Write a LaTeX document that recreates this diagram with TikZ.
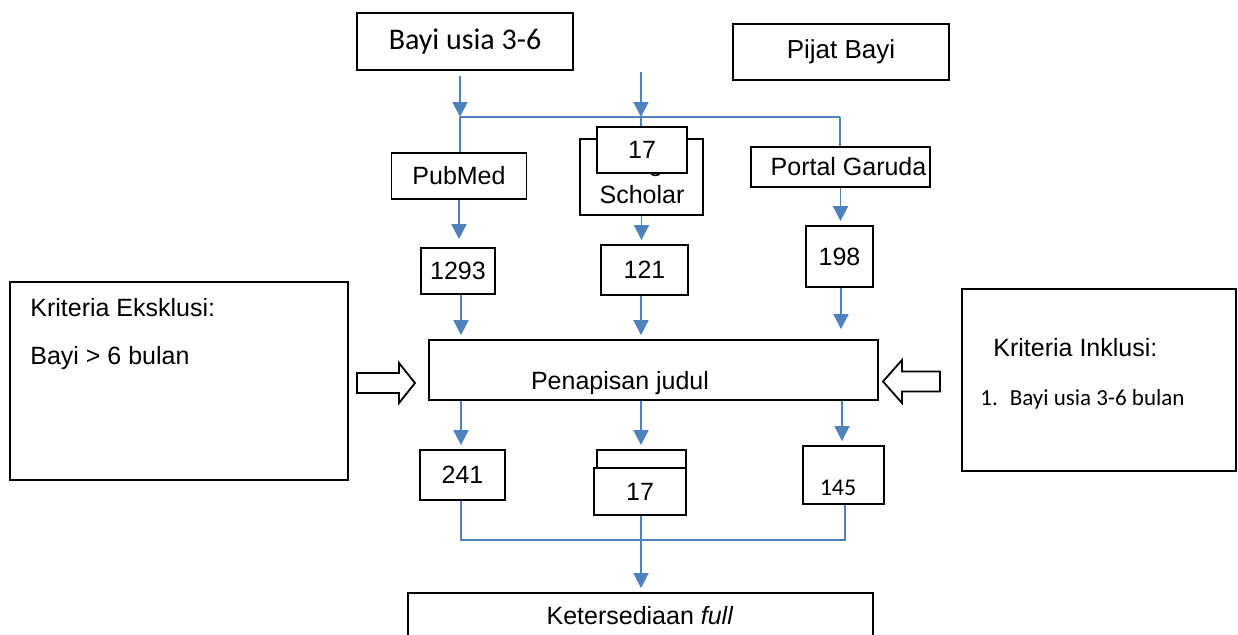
\documentclass[tikz,border=0pt]{standalone}
\usepackage{fontspec}
\setmainfont{Liberation Sans}
\newfontfamily\calibri{Carlito}
\usetikzlibrary{positioning,arrows.meta}
\definecolor{flowblue}{RGB}{79,129,189}

\begin{document}
\begin{tikzpicture}[x=0.5pt,y=-0.5pt,
    box/.style={draw,line width=0.9pt,inner sep=0pt,align=center,font=\fontsize{12.5}{16}\selectfont},
    txt/.style={inner sep=0pt,align=center,font=\fontsize{12.5}{15}\selectfont},
    flow/.style={draw=flowblue,line width=0.9pt,shorten >=2pt,-{Triangle[width=7.5pt,length=7.5pt]}},
    link/.style={draw=flowblue,line width=0.9pt}]
    \useasboundingbox (0,0) rectangle (1238,634);

        % sources
        \node[box,minimum width=108pt,minimum height=28.5pt,font=\calibri\fontsize{15}{18}\selectfont] (bayi) at (465,41.5) {Bayi usia 3-6};
        \node[box,minimum width=108pt,minimum height=28pt,font=\fontsize{13}{15}\selectfont] (pijat) at (841,52) {Pijat Bayi};

        % databases
        \node[box,minimum width=67.5pt,minimum height=23pt] (pub) at (459,176) {PubMed};
        \node[box,minimum width=61.5pt,minimum height=38pt] (sch) at (641.5,177) {};
        \node[txt,font=\fontsize{12.5}{16}\selectfont] (scht) at (642,179) {Google\\Scholar};
        \node[box,minimum width=89.5pt,minimum height=20pt] (gar) at (840.5,167) {\hspace{8pt}Portal Garuda};

        \coordinate (src1) at (460,76);
        \coordinate (src2) at (641,72);
        \coordinate (jl) at (460,117);
        \coordinate (jm) at (641,117);
        \coordinate (jr) at (840,117);
        \draw[flow,shorten >=0pt] (src1) -- (jl);
        \draw[flow,shorten >=0pt] (src2) -- (jm);
        \draw[link] (jl) -- (jr);
        \draw[link] (jl) -- (jl |- pub.north);
        \draw[link] (jr) -- (jr |- gar.north);
        \draw[link] (jm) -- (jm |- sch.north);
        \node[box,fill=white,minimum width=45pt,minimum height=23pt] (s17) at (642,150) {17};

        % hits
        \node[box,minimum width=37pt,minimum height=23pt] (n1293) at (458,271) {1293};
        \node[box,minimum width=43.5pt,minimum height=25pt] (n121) at (644.5,270) {121};
        \node[box,minimum width=33.5pt,minimum height=30.5pt] (n198) at (839.5,256.5) {198};
        \draw[flow,shorten >=4pt] (pub.south) -- (pub.south |- n1293.north);
        \draw[flow] (sch.south) -- (sch.south |- n121.north);
        \draw[flow] (gar.south) -- (gar.south |- n198.north);

        % screening
        \node[box,minimum width=224.5pt,minimum height=30pt] (pen) at (653.5,370) {};
        \node[txt] (pentxt) at (620,383) {Penapisan judul};
        \draw[flow] (461,0 |- n1293.south) -- (461,0 |- pen.north);
        \draw[flow] (641,0 |- n121.south) -- (641,0 |- pen.north);
        \draw[flow,shorten >=5pt] (841,0 |- n198.south) -- (841,0 |- pen.north);

        % criteria
        \node[draw,line width=0.9pt,minimum width=169pt,minimum height=99pt] (eks) at (179,381) {};
        \node[txt,anchor=west] (ekst) at (30,308) {Kriteria Eksklusi:};
        \node[txt,anchor=west] (eksb) at (30,358) {Bayi > 6 bulan};
        \node[draw,line width=0.9pt,minimum width=137pt,minimum height=91pt] (ink) at (1099,380) {};
        \node[txt,anchor=west] (inkt) at (993,348) {Kriteria Inklusi:};
        \node[txt,anchor=west,font=\calibri\fontsize{11.5}{14}\selectfont] (inkb) at (980,399) {1.\hspace{6pt}Bayi usia 3-6 bulan};
        \draw[line width=0.9pt] (357,373) -- (399,373) -- (399,363) -- (415,383) -- (399,403) -- (399,393) -- (357,393) -- cycle;
        \draw[line width=0.9pt] (940,371.5) -- (902,371.5) -- (902,360) -- (883,381.5) -- (902,403) -- (902,391.5) -- (940,391.5) -- cycle;

        % after screening
        \node[box,minimum width=42.5pt,minimum height=25pt] (n241) at (462.5,475) {241};
        \node[box,minimum width=44.5pt,minimum height=23.5pt] (s17b) at (641.5,473.5) {};
        \node[box,fill=white,minimum width=46pt,minimum height=23.5pt] (s17f) at (640,491.5) {17};
        \node[box,minimum width=40.5pt,minimum height=29pt] (n145) at (843.5,475) {};
        \node[txt,font=\calibri\fontsize{12}{14}\selectfont] (n145t) at (838,488) {145};
        \draw[flow] (pen.south -| 461,0) -- (461,0 |- n241.north);
        \draw[flow] (pen.south -| 641,0) -- (641,0 |- s17b.north);
        \draw[flow] (pen.south -| 842,0) -- (842,0 |- n145.north);

        % full text
        \node[box,minimum width=232.5pt,minimum height=28.5pt] (ket) at (640.5,621.5) {};
        \node[txt] (kett) at (640,616) {Ketersediaan \textit{full}};
        \coordinate (jb1) at (461,540);
        \coordinate (jb2) at (845,540);
        \draw[link] (n241.south -| jb1) -- (jb1) -- (jb2) -- (n145.south -| jb2);
        \draw[flow] (641,0 |- s17f.south) -- (641,0 |- ket.north);
    \end{tikzpicture}
\end{document}
